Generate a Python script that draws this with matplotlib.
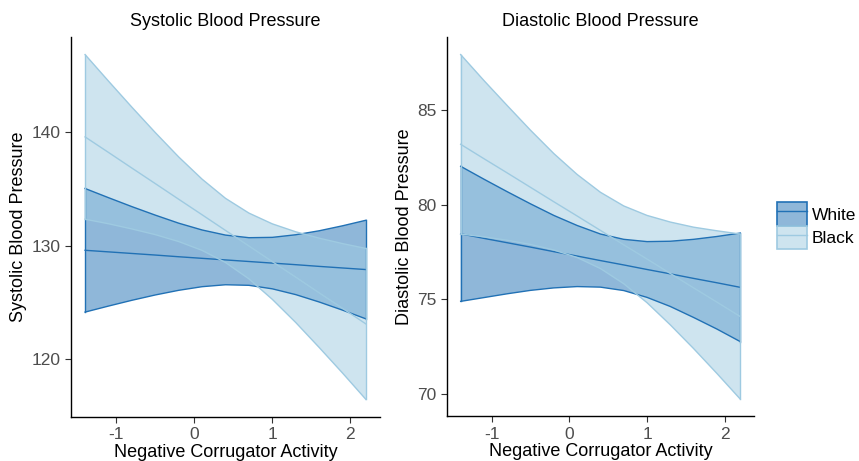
import matplotlib
matplotlib.use("Agg")
import matplotlib.pyplot as plt
from matplotlib.patches import Patch
from matplotlib.lines import Line2D

plt.rcParams['font.family'] = ['Liberation Sans', 'DejaVu Sans']
plt.rcParams['axes.unicode_minus'] = False

# corrugator activity grid
x = [-1.4, -1.1, -0.8, -0.5, -0.2, 0.1, 0.4, 0.7, 1.0, 1.3, 1.6, 1.9, 2.2]

# systolic: fitted line + 95% band
sys_white_fit = [129.60, 129.46, 129.32, 129.18, 129.03, 128.89, 128.75, 128.61, 128.47, 128.33, 128.18, 128.04, 127.90]
sys_white_hi = [135.05, 134.24, 133.45, 132.70, 131.99, 131.39, 130.94, 130.71, 130.74, 130.97, 131.32, 131.76, 132.25]
sys_white_lo = [124.15, 124.68, 125.19, 125.66, 126.07, 126.39, 126.56, 126.51, 126.20, 125.69, 125.04, 124.32, 123.55]
sys_black_fit = [139.60, 138.23, 136.85, 135.48, 134.10, 132.73, 131.35, 129.98, 128.60, 127.23, 125.85, 124.48, 123.10]
sys_black_hi = [146.86, 144.52, 142.22, 139.98, 137.83, 135.87, 134.18, 132.88, 131.93, 131.23, 130.67, 130.19, 129.76]
sys_black_lo = [132.34, 131.94, 131.48, 130.98, 130.37, 129.59, 128.52, 127.08, 125.27, 123.23, 121.03, 118.77, 116.44]

# diastolic
dia_white_fit = [78.46, 78.22, 77.99, 77.76, 77.52, 77.29, 77.05, 76.82, 76.58, 76.35, 76.11, 75.88, 75.64]
dia_white_hi = [82.02, 81.34, 80.68, 80.04, 79.43, 78.90, 78.45, 78.17, 78.05, 78.07, 78.17, 78.32, 78.50]
dia_white_lo = [74.90, 75.10, 75.30, 75.48, 75.61, 75.68, 75.65, 75.47, 75.11, 74.63, 74.05, 73.44, 72.78]
dia_black_fit = [83.18, 82.42, 81.67, 80.91, 80.15, 79.40, 78.64, 77.88, 77.13, 76.37, 75.61, 74.86, 74.10]
dia_black_hi = [87.91, 86.54, 85.22, 83.92, 82.69, 81.59, 80.65, 79.93, 79.43, 79.08, 78.81, 78.62, 78.45]
dia_black_lo = [78.45, 78.30, 78.12, 77.90, 77.61, 77.21, 76.63, 75.83, 74.83, 73.66, 72.41, 71.10, 69.75]

groups = ['White', 'Black']
colors = {'White': '#2171b5', 'Black': '#9ecae1'}
fill_alpha = 0.5

fig = plt.figure(figsize=(8.59, 4.61), dpi=100)
ax1 = fig.add_axes([0.0827, 0.096, 0.3597, 0.823])
ax2 = fig.add_axes([0.520, 0.097, 0.358, 0.822])

panels = [
    (ax1, 'Systolic Blood Pressure', [120, 130, 140],
     {'White': (sys_white_fit, sys_white_lo, sys_white_hi), 'Black': (sys_black_fit, sys_black_lo, sys_black_hi)}),
    (ax2, 'Diastolic Blood Pressure', [70, 75, 80, 85],
     {'White': (dia_white_fit, dia_white_lo, dia_white_hi), 'Black': (dia_black_fit, dia_black_lo, dia_black_hi)}),
]

for ax, name, yticks, data in panels:
    for g in groups:
        fit, lo, hi = data[g]
        c = colors[g]
        ax.fill_between(x, lo, hi, facecolor=c, alpha=fill_alpha, edgecolor='none')
        ax.plot(x, lo, color=c, lw=1.0)
        ax.plot(x, hi, color=c, lw=1.0)
        ax.plot(x, fit, color=c, lw=1.0)
        ax.plot([x[0], x[0]], [lo[0], hi[0]], color=c, lw=1.0)
        ax.plot([x[-1], x[-1]], [lo[-1], hi[-1]], color=c, lw=1.0)
    allv = data['White'][1] + data['White'][2] + data['Black'][1] + data['Black'][2]
    lo_v, hi_v = min(allv), max(allv)
    pad = (hi_v - lo_v) * 0.05
    ax.set_ylim(lo_v - pad, hi_v + pad)
    ax.set_xlim(-1.4 - 0.18, 2.2 + 0.18)
    ax.set_xticks([-1, 0, 1, 2])
    ax.set_yticks(yticks)
    ax.set_title(name, fontsize=13, pad=8)
    ax.set_ylabel(name, fontsize=13, labelpad=3)
    ax.set_xlabel('Negative Corrugator Activity', fontsize=13, labelpad=1)
    ax.tick_params(labelsize=12.5, labelcolor='#4d4d4d', color='#333333', length=4, width=0.8)
    for s in ['top', 'right']:
        ax.spines[s].set_visible(False)
    for s in ['left', 'bottom']:
        ax.spines[s].set_linewidth(1.0)

handles = []
for g in groups:
    c = colors[g]
    handles.append((Patch(facecolor=c, alpha=fill_alpha, edgecolor='none'),
                    Patch(facecolor='none', edgecolor=c, lw=1.2),
                    Line2D([], [], color=c, lw=1.0)))
fig.legend(handles, groups, loc='center left', bbox_to_anchor=(0.905, 0.51),
           frameon=False, fontsize=12.5, handlelength=1.7, handleheight=1.7,
           borderpad=0, borderaxespad=0, handletextpad=0.3, labelspacing=0.0)

plt.savefig('out.png', dpi=100)
plt.close()
